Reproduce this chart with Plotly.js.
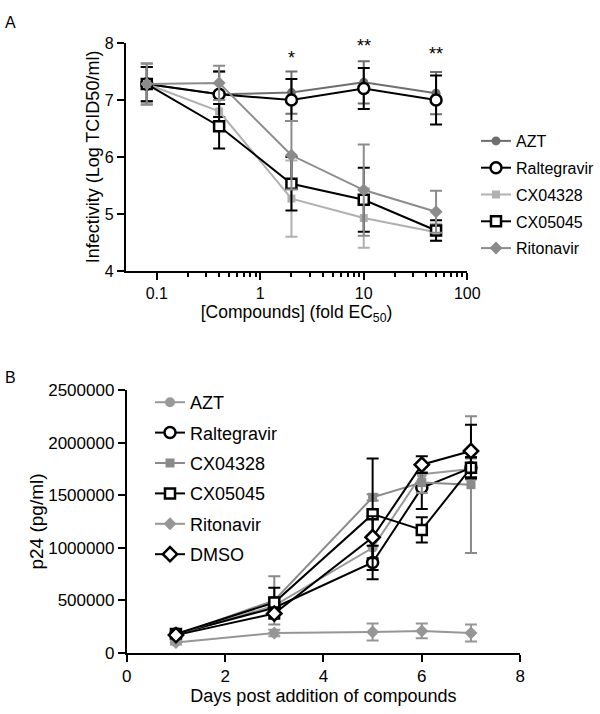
<!DOCTYPE html>
<html>
<head>
<meta charset="utf-8">
<script src="https://cdn.plot.ly/plotly-3.0.1.min.js"></script>
<style>html,body{margin:0;padding:0;background:#fff;}#chart{width:600px;height:714px;}</style>
</head>
<body>
<div id="chart"></div>
<script>
// ---------- Panel A data ----------
const doseA = [0.08, 0.4, 2, 10, 50];
const aztA = [7.28, 7.10, 7.13, 7.31, 7.12];
const aztAErr = [0.36, 0.40, 0.37, 0.37, 0.37];
const ralA = [7.28, 7.10, 7.00, 7.20, 7.00];
const ralAErr = [0.30, 0.40, 0.37, 0.36, 0.43];
const cx4328A = [7.28, 6.80, 5.27, 4.93, 4.68];
const cx4328AErr = [0.30, 0.20, 0.67, 0.52, 0.15];
const cx5045A = [7.28, 6.54, 5.53, 5.25, 4.71];
const cx5045AErr = [0.30, 0.39, 0.47, 0.56, 0.18];
const ritA = [7.28, 7.30, 6.03, 5.42, 5.04];
const ritAErr = [0.36, 0.30, 0.60, 0.80, 0.37];
const starX = [2, 10, 50];
const starY = [7.73, 7.94, 7.80];
const starText = ['*', '**', '**'];

// ---------- Panel B data ----------
const daysB = [1, 3, 5, 6, 7];
const aztB = [170000, 450000, 1000000, 1700000, 1750000];
const aztBErr = [30000, 60000, 120000, 100000, 100000];
const ralB = [180000, 430000, 860000, 1570000, 1760000];
const ralBErr = [30000, 50000, 160000, 200000, 100000];
const cx4328B = [170000, 500000, 1480000, 1620000, 1600000];
const cx4328BErr = [30000, 230000, 30000, 100000, 650000];
const cx5045B = [180000, 480000, 1320000, 1170000, 1760000];
const cx5045BErr = [30000, 140000, 530000, 120000, 100000];
const ritB = [100000, 190000, 200000, 210000, 190000];
const ritBErr = [20000, 30000, 80000, 70000, 80000];
const dmsoB = [170000, 375000, 1100000, 1790000, 1920000];
const dmsoBErr = [20000, 50000, 200000, 80000, 250000];

const names = ['AZT', 'Raltegravir', 'CX04328', 'CX05045', 'Ritonavir', 'DMSO'];

const FONT = 'Liberation Sans, Arial, sans-serif';

function tr(x, y, err, name, color, symbol, size, fill, xa, ya, legend) {
  return {
    x: x, y: y, name: name, type: 'scatter', mode: 'lines+markers',
    xaxis: xa, yaxis: ya, legend: legend, legendgroup: legend + name,
    line: {color: color, width: 2},
    marker: {symbol: symbol, size: size, color: fill, line: {color: color, width: fill === '#ffffff' ? 2.5 : 0}},
    error_y: {type: 'data', array: err, visible: true, color: color, thickness: 2, width: 6},
    cliponaxis: false
  };
}

const cAztA = '#6e6e6e', cCx4A = '#b0b0b0', cRitA = '#8c8c8c';
const cAztB = '#999999', cCx4B = '#8a8a8a', cRitB = '#969696';

const data = [
  tr(doseA, aztA, aztAErr, names[0], cAztA, 'circle', 9, cAztA, 'x', 'y', 'legend'),
  tr(doseA, ralA, ralAErr, names[1], '#000000', 'circle', 11, '#ffffff', 'x', 'y', 'legend'),
  tr(doseA, cx4328A, cx4328AErr, names[2], cCx4A, 'square', 8, cCx4A, 'x', 'y', 'legend'),
  tr(doseA, cx5045A, cx5045AErr, names[3], '#000000', 'square', 10, '#ffffff', 'x', 'y', 'legend'),
  tr(doseA, ritA, ritAErr, names[4], cRitA, 'diamond', 10, cRitA, 'x', 'y', 'legend'),

  tr(daysB, aztB, aztBErr, names[0], cAztB, 'circle', 10, cAztB, 'x2', 'y2', 'legend2'),
  tr(daysB, ralB, ralBErr, names[1], '#000000', 'circle', 11, '#ffffff', 'x2', 'y2', 'legend2'),
  tr(daysB, cx4328B, cx4328BErr, names[2], cCx4B, 'square', 9, cCx4B, 'x2', 'y2', 'legend2'),
  tr(daysB, cx5045B, cx5045BErr, names[3], '#000000', 'square', 10, '#ffffff', 'x2', 'y2', 'legend2'),
  tr(daysB, ritB, ritBErr, names[4], cRitB, 'diamond', 10, cRitB, 'x2', 'y2', 'legend2'),
  tr(daysB, dmsoB, dmsoBErr, names[5], '#000000', 'diamond', 11, '#ffffff', 'x2', 'y2', 'legend2')
];

const H = 714, W = 600;
const axisCommon = {
  showline: true, linecolor: '#000', linewidth: 2, ticks: 'outside', ticklen: 7,
  tickwidth: 2, tickcolor: '#000', showgrid: false, zeroline: false,
  tickfont: {family: FONT, color: '#000'}
};

const minorVals = [];
[0.1, 1, 10].forEach(d => { for (let k = 2; k <= 9; k++) minorVals.push(+(d * k).toFixed(3)); });

const annotations = starX.map((sx, i) => ({
  x: Math.log10(sx), y: starY[i], xref: 'x', yref: 'y', text: starText[i], showarrow: false,
  font: {family: FONT, size: 18, color: '#000'}
}));
annotations.push({x: 3 / W, y: 1 - 12 / H, xref: 'paper', yref: 'paper', xanchor: 'left', text: 'A', showarrow: false, font: {family: FONT, size: 16, color: '#000'}});
annotations.push({x: 3 / W, y: 1 - 377 / H, xref: 'paper', yref: 'paper', xanchor: 'left', text: 'B', showarrow: false, font: {family: FONT, size: 16, color: '#000'}});

const layout = {
  width: W, height: H, margin: {l: 0, r: 0, t: 0, b: 0},
  paper_bgcolor: '#fff', plot_bgcolor: '#fff', showlegend: true,
  font: {family: FONT, color: '#000'},
  xaxis: Object.assign({}, axisCommon, {
    domain: [126 / W, 468 / W], anchor: 'y', type: 'log', range: [-1.3, 2],
    tickvals: [0.1, 1, 10, 100], ticktext: ['0.1', '1', '10', '100'],
    tickfont: {family: FONT, size: 16, color: '#000'},
    minor: {tickvals: minorVals, ticks: 'outside', ticklen: 4, tickwidth: 2, tickcolor: '#000', showgrid: false},
    title: {text: '[Compounds] (fold EC<sub>50</sub>)', font: {family: FONT, size: 17.5, color: '#000'}, standoff: 2}
  }),
  yaxis: Object.assign({}, axisCommon, {
    domain: [1 - 271 / H, 1 - 43 / H], anchor: 'x', range: [4, 8], dtick: 1,
    tickfont: {family: FONT, size: 16, color: '#000'},
    title: {text: 'Infectivity (Log TCID50/ml)', font: {family: FONT, size: 18, color: '#000'}, standoff: 0}
  }),
  xaxis2: Object.assign({}, axisCommon, {
    domain: [127 / W, 521 / W], anchor: 'y2', range: [0, 8], dtick: 2,
    tickfont: {family: FONT, size: 17, color: '#000'},
    title: {text: 'Days post addition of compounds', font: {family: FONT, size: 18, color: '#000'}, standoff: 4}
  }),
  yaxis2: Object.assign({}, axisCommon, {
    domain: [1 - 653 / H, 1 - 390 / H], anchor: 'x2', range: [0, 2500000], dtick: 500000,
    tickformat: 'd',
    tickfont: {family: FONT, size: 17, color: '#000'},
    title: {text: 'p24 (pg/ml)', font: {family: FONT, size: 19, color: '#000'}, standoff: 0}
  }),
  legend: {x: 477 / W, xanchor: 'left', y: 1 - 124 / H, yanchor: 'top', traceorder: 'grouped',
    tracegroupgap: 3, font: {family: FONT, size: 16, color: '#000'}, bgcolor: 'rgba(0,0,0,0)', borderwidth: 0},
  legend2: {x: 150 / W, xanchor: 'left', y: 1 - 384 / H, yanchor: 'top', traceorder: 'grouped',
    tracegroupgap: 4, font: {family: FONT, size: 18, color: '#000'}, bgcolor: 'rgba(0,0,0,0)', borderwidth: 0},
  annotations: annotations
};

Plotly.newPlot('chart', data, layout, {displayModeBar: false, staticPlot: true});
</script>
</body>
</html>
